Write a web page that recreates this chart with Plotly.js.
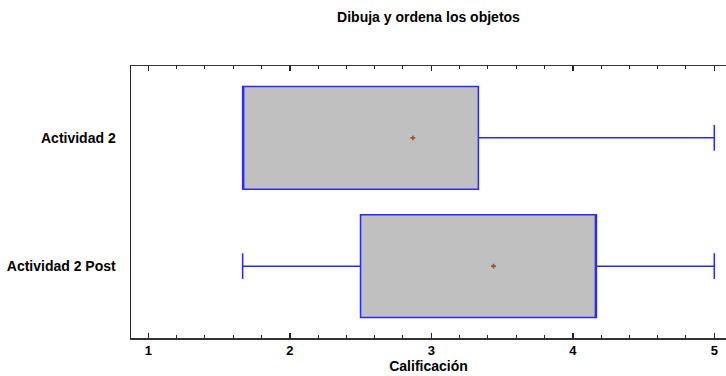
<!DOCTYPE html>
<html>
<head>
<meta charset="utf-8">
<script src="https://cdn.plot.ly/plotly-3.0.1.min.js"></script>
<style>html,body{margin:0;padding:0;background:#fff;}#chart{width:726px;height:376px;}</style>
</head>
<body>
<div id="chart"></div>
<script>
const categories = ["Actividad 2", "Actividad 2 Post"];
const minVals = [1.667, 1.667];
const q1Vals = [1.667, 2.5];
const medianVals = [1.667, 4.167];
const q3Vals = [3.333, 4.167];
const maxVals = [5, 5];
const meanVals = [2.87, 3.44];
const xTicks = [1, 2, 3, 4, 5];

const fam = "Liberation Sans, Arial, sans-serif";
const font = {family: fam, size: 14, color: "#000", weight: "bold"};
const tickFont = {family: fam, size: 13, color: "#000", weight: "bold"};

const boxTrace = {
  type: "box",
  orientation: "h",
  y: categories,
  q1: q1Vals,
  median: medianVals,
  q3: q3Vals,
  lowerfence: minVals,
  upperfence: maxVals,
  width: 0.8,
  whiskerwidth: 0.25,
  fillcolor: "#c0c0c0",
  line: {color: "#2a2aff", width: 1.5},
  boxpoints: false,
  hoverinfo: "skip",
  showlegend: false
};

const meanTrace = {
  type: "scatter",
  mode: "markers",
  x: meanVals,
  y: categories,
  marker: {symbol: "cross", size: 4, color: "#a0522d"},
  hoverinfo: "skip",
  showlegend: false
};

const layout = {
  width: 726,
  height: 376,
  margin: {l: 131, r: 0, t: 66, b: 38},
  paper_bgcolor: "#fff",
  plot_bgcolor: "#fff",
  font: font,
  title: {text: "Dibuja y ordena los objetos", font: font, x: 0.5, xref: "paper", xanchor: "center", y: 0.9556, yref: "container", yanchor: "middle"},
  xaxis: {
    range: [0.878, 5.083],
    autorange: false,
    tickvals: xTicks,
    ticks: "inside",
    ticklen: 5,
    tickwidth: 1.5,
    tickcolor: "#222",
    showline: true,
    linecolor: "#333",
    linewidth: 1.5,
    mirror: "ticks",
    showgrid: false,
    zeroline: false,
    tickfont: tickFont,
    minor: {dtick: 0.2, tick0: 0, ticks: "inside", ticklen: 3, tickwidth: 1, tickcolor: "#222", showgrid: false},
    title: {text: "Calificación", font: font, standoff: 0}
  },
  yaxis: {
    type: "category",
    categoryorder: "array",
    categoryarray: ["Actividad 2 Post", "Actividad 2"],
    range: [-0.56, 1.56],
    autorange: false,
    showline: true,
    linecolor: "#222",
    linewidth: 1.5,
    ticks: "",
    showgrid: false,
    zeroline: false,
    tickfont: font,
    ticklabelstandoff: 11
  }
};

Plotly.newPlot("chart", [boxTrace, meanTrace], layout, {staticPlot: true, displayModeBar: false});
</script>
</body>
</html>
